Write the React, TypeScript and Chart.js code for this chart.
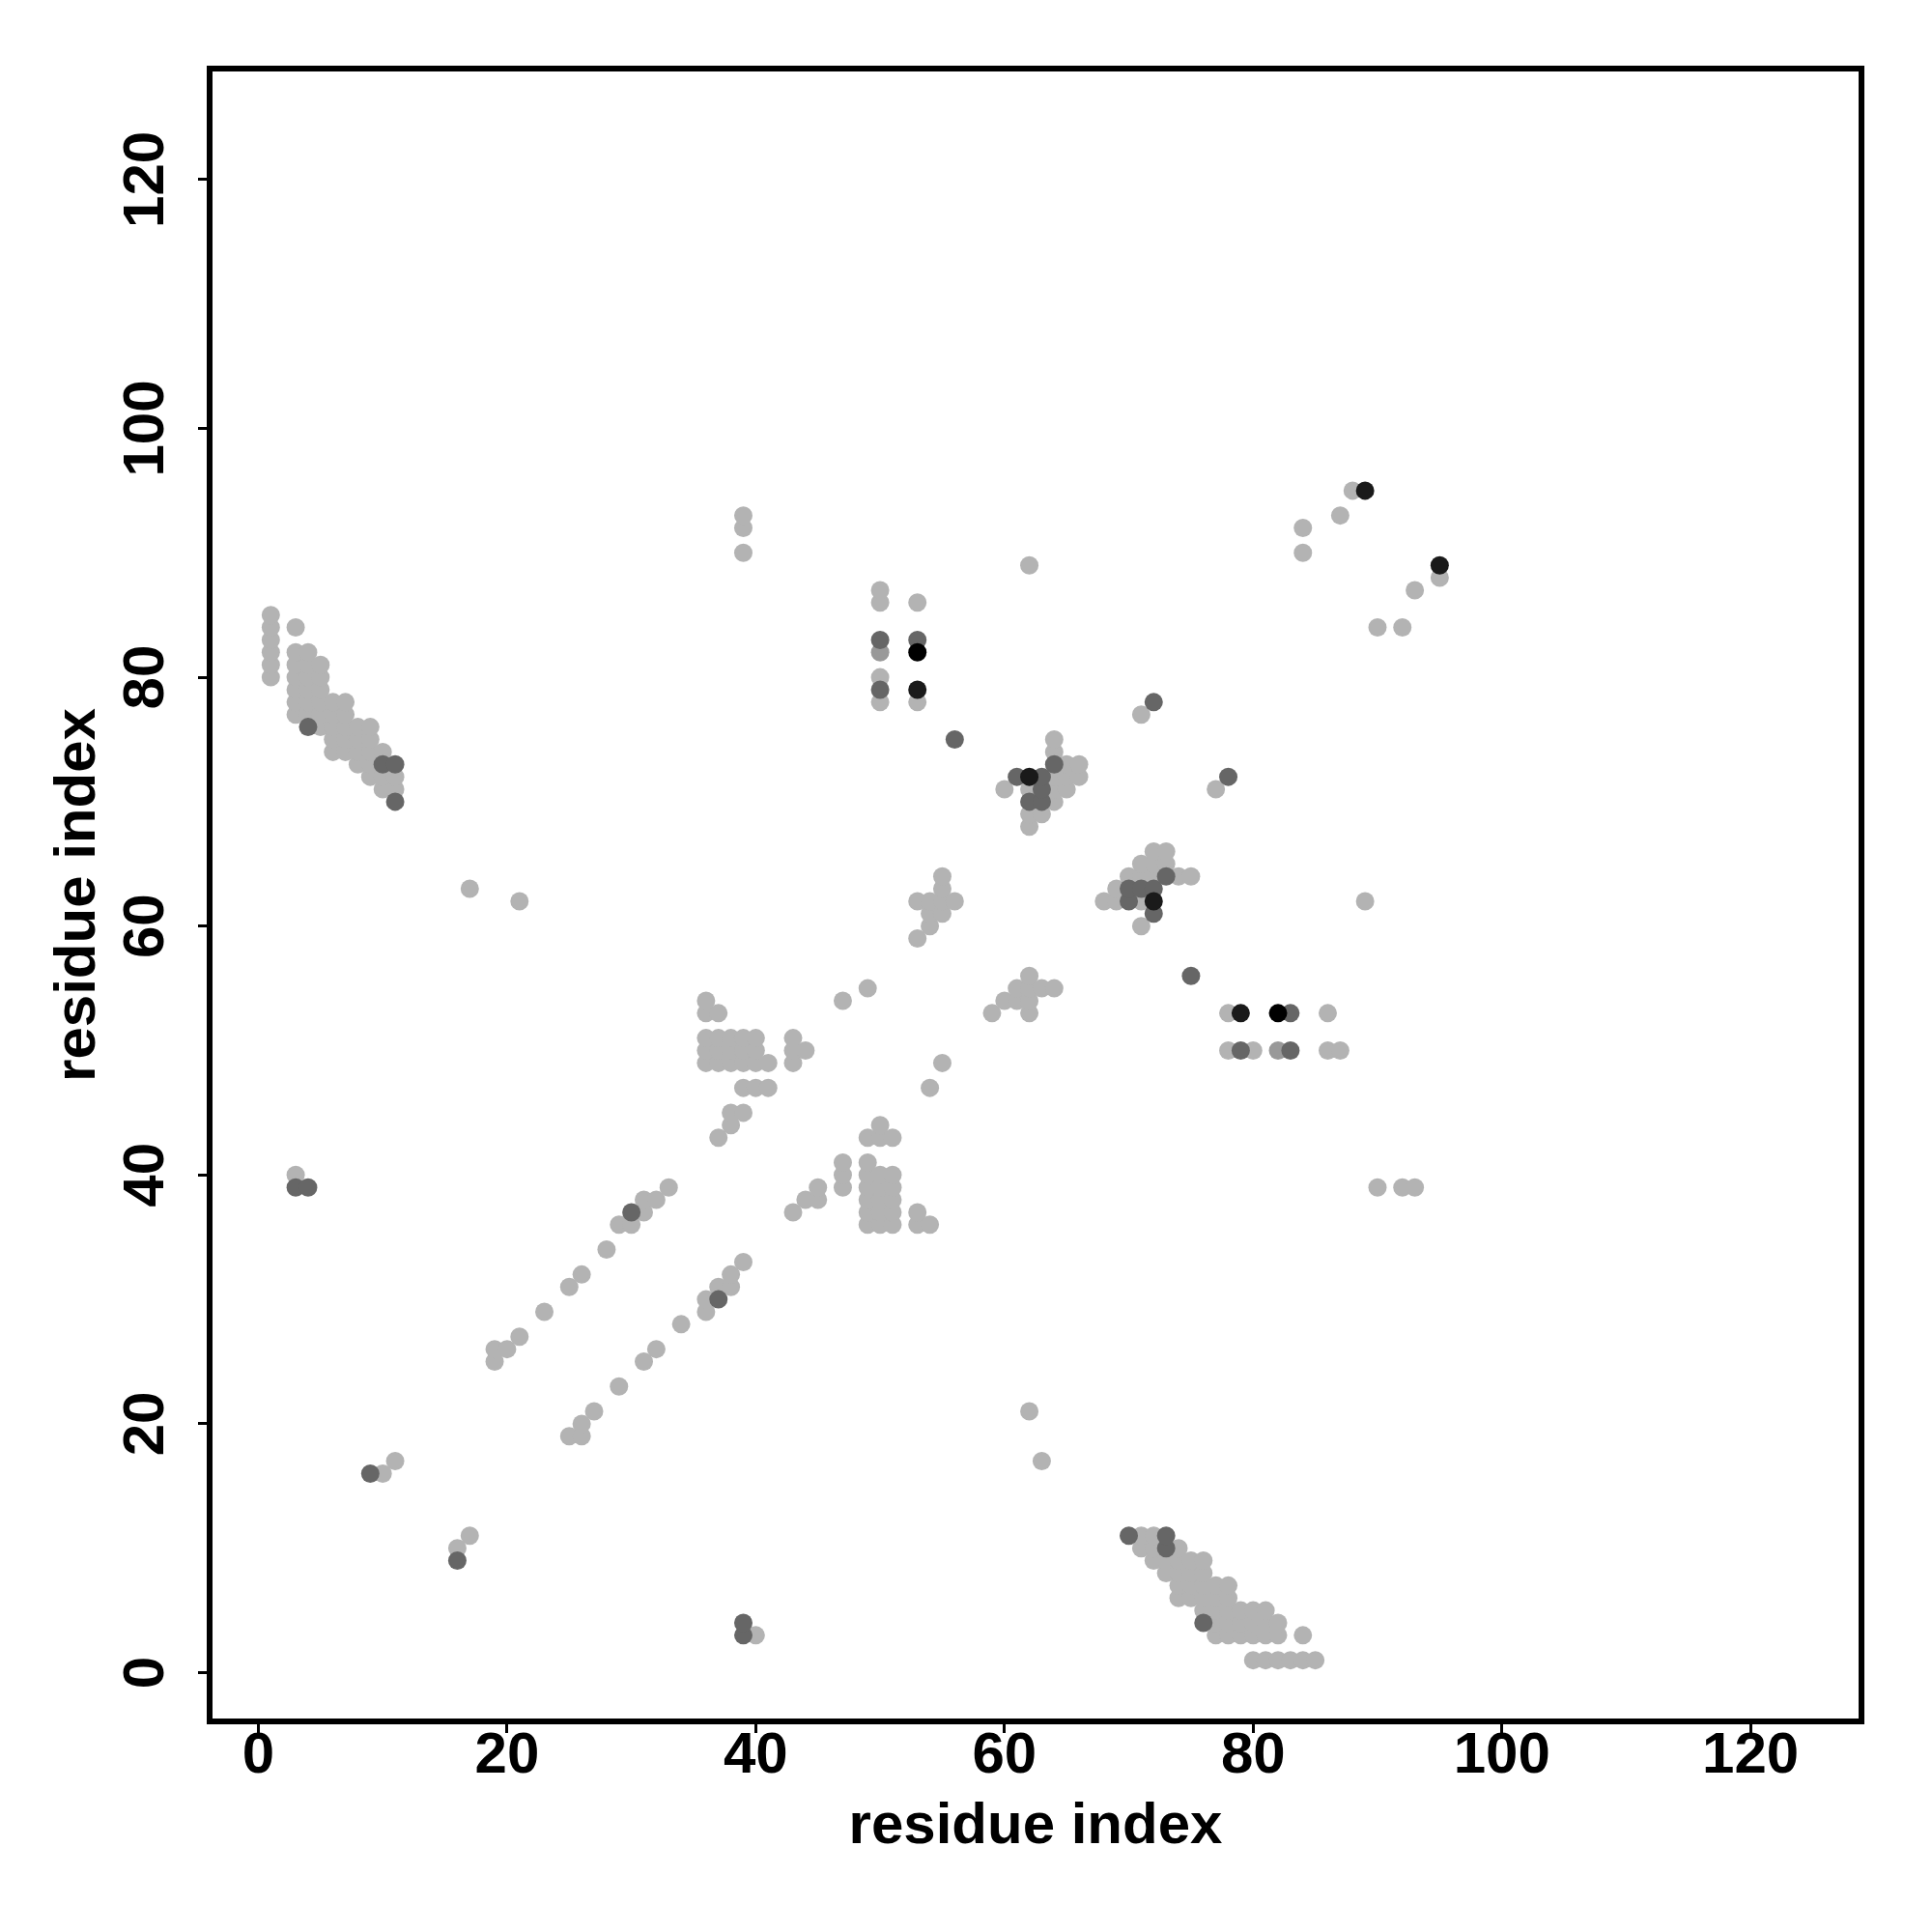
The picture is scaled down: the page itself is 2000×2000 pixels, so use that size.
import React, { useEffect, useRef } from "react";
import { Chart, registerables } from "chart.js";

Chart.register(...registerables);

// ---- axis settings ----
const xTickValues = [0, 20, 40, 60, 80, 100, 120];
const yTickValues = [0, 20, 40, 60, 80, 100, 120];
const axisMin = -3.92;
const axisMax = 128.92;
const xAxisTitle = "residue index";
const yAxisTitle = "residue index";

// ---- contact pairs [i, j] (i < j); each drawn at (i, j) and (j, i) ----
const lightPairs: number[][] = [
  [1, 80], [1, 81], [1, 82], [1, 83], [1, 84], [1, 85],
  [3, 40], [3, 77], [3, 78], [3, 79], [3, 80], [3, 81], [3, 82], [3, 84],
  [4, 77], [4, 78], [4, 79], [4, 80], [4, 81], [4, 82],
  [5, 76], [5, 77], [5, 78], [5, 79], [5, 80], [5, 81],
  [6, 74], [6, 75], [6, 76], [6, 77], [6, 78],
  [7, 74], [7, 75], [7, 76], [7, 77], [7, 78],
  [8, 73], [8, 74], [8, 75], [8, 76],
  [9, 72], [9, 73], [9, 74], [9, 75], [9, 76],
  [10, 16], [10, 71], [10, 72], [10, 74],
  [11, 17], [11, 71], [11, 72],
  [17, 63], [19, 25], [19, 26], [20, 26], [21, 27], [21, 62], [23, 29],
  [25, 31], [26, 32], [28, 34], [29, 36], [30, 36], [31, 37], [31, 38],
  [32, 38], [33, 39],
  [36, 49], [36, 50], [36, 51], [36, 53], [36, 54],
  [37, 43], [37, 49], [37, 50], [37, 51], [37, 53],
  [38, 44], [38, 45], [38, 49], [38, 50], [38, 51],
  [39, 45], [39, 47], [39, 49], [39, 50], [39, 51], [39, 90], [39, 92], [39, 93],
  [40, 47], [40, 49], [40, 50], [40, 51],
  [41, 47], [41, 49],
  [43, 49], [43, 50], [43, 51], [44, 50], [47, 54], [49, 55],
  [50, 78], [50, 80], [50, 86], [50, 87],
  [53, 59], [53, 62], [53, 78], [53, 86],
  [54, 60], [54, 61], [54, 62],
  [55, 61], [55, 62], [55, 63], [55, 64],
  [56, 62], [60, 71],
  [62, 68], [62, 69], [62, 71], [62, 89],
  [63, 69],
  [64, 70], [64, 71], [64, 72], [64, 74], [64, 75],
  [65, 71], [65, 72], [65, 73], [66, 72], [66, 73],
  [71, 77], [84, 90], [84, 92], [87, 93], [88, 95],
];

const greyPairs: number[][] = [[50, 82]];

const midPairs: number[][] = [
  [3, 39], [4, 39], [4, 76], [9, 16], [10, 73], [11, 70], [11, 73],
  [30, 37], [50, 79], [50, 83], [53, 83], [56, 75], [61, 72],
  [62, 70], [63, 70], [63, 71], [63, 72], [64, 73], [72, 78],
];

const darkPairs: number[][] = [[53, 79], [62, 72], [89, 95]];

const blackPairs: number[][] = [[53, 82]];

const levelColors = ["#b3b3b3", "#999999", "#666666", "#1a1a1a", "#000000"];

function toPoints(pairs: number[][]) {
  const out: { x: number; y: number }[] = [];
  for (const [i, j] of pairs) out.push({ x: i, y: j });
  for (const [i, j] of pairs) out.push({ x: j, y: i });
  return out;
}

const FONT_FAMILY = "'Liberation Sans', Arial, Helvetica, sans-serif";
const labelFont = { family: FONT_FAMILY, size: 60, weight: "bold" as const, lineHeight: 1.2 };

const boxPlugin = {
  id: "plotBox",
  afterDraw(chart: any) {
    const { ctx, chartArea } = chart;
    const { left, top, right, bottom } = chartArea;
    ctx.save();
    ctx.strokeStyle = "#000000";
    ctx.lineWidth = 6;
    ctx.strokeRect(left, top, right - left, bottom - top);
    ctx.restore();
  },
};

export default function App() {
  const canvasRef = useRef<HTMLCanvasElement | null>(null);

  useEffect(() => {
    if (!canvasRef.current) return;
    const mk = (pairs: number[][], color: string, label: string) => ({
      label,
      data: toPoints(pairs),
      pointRadius: 9.5,
      pointHoverRadius: 9.5,
      pointBorderWidth: 0,
      pointBackgroundColor: color,
      pointBorderColor: color,
      showLine: false,
    });
    const chart = new Chart(canvasRef.current, {
      type: "scatter",
      data: {
        datasets: [
          mk(blackPairs, levelColors[4], "black"),
          mk(darkPairs, levelColors[3], "dark"),
          mk(midPairs, levelColors[2], "mid"),
          mk(greyPairs, levelColors[1], "grey"),
          mk(lightPairs, levelColors[0], "light"),
        ],
      },
      options: {
        responsive: false,
        devicePixelRatio: 1,
        animation: false,
        events: [],
        layout: { padding: { top: 71, right: 73, left: 0, bottom: 0 } },
        plugins: {
          legend: { display: false },
          tooltip: { enabled: false },
        },
        scales: {
          x: {
            type: "linear",
            position: "bottom",
            min: axisMin,
            max: axisMax,
            afterBuildTicks: (s: any) => {
              s.ticks = xTickValues.map((v) => ({ value: v }));
            },
            afterFit: (s: any) => {
              s.height = 218;
            },
            grid: {
              display: true,
              drawOnChartArea: false,
              drawTicks: true,
              tickLength: 12,
              lineWidth: 3,
              color: "#000000",
            },
            border: { display: false },
            ticks: {
              autoSkip: false,
              minRotation: 0,
              maxRotation: 0,
              padding: -12,
              color: "#000000",
              font: labelFont,
              callback: (v: any) => String(v),
            },
            title: {
              display: true,
              text: xAxisTitle,
              color: "#000000",
              font: labelFont,
              padding: { top: 0, bottom: 73 },
            },
          },
          y: {
            type: "linear",
            position: "left",
            min: axisMin,
            max: axisMax,
            afterBuildTicks: (s: any) => {
              s.ticks = yTickValues.map((v) => ({ value: v }));
            },
            afterFit: (s: any) => {
              s.width = 217;
            },
            grid: {
              display: true,
              drawOnChartArea: false,
              drawTicks: true,
              tickLength: 12,
              lineWidth: 3,
              color: "#000000",
            },
            border: { display: false },
            ticks: {
              autoSkip: false,
              minRotation: 90,
              maxRotation: 90,
              crossAlign: "center",
              padding: 2,
              color: "#000000",
              font: labelFont,
              callback: (v: any) => String(v),
            },
            title: {
              display: true,
              text: yAxisTitle,
              color: "#000000",
              font: labelFont,
              padding: { top: 45, bottom: 0 },
            },
          },
        },
      },
      plugins: [boxPlugin],
    } as any);
    return () => chart.destroy();
  }, []);

  return (
    <div style={{ position: "absolute", left: 0, top: 0, width: 2000, height: 2000, background: "#ffffff" }}>
      <canvas ref={canvasRef} width={2000} height={2000} style={{ width: 2000, height: 2000, display: "block" }} />
    </div>
  );
}
